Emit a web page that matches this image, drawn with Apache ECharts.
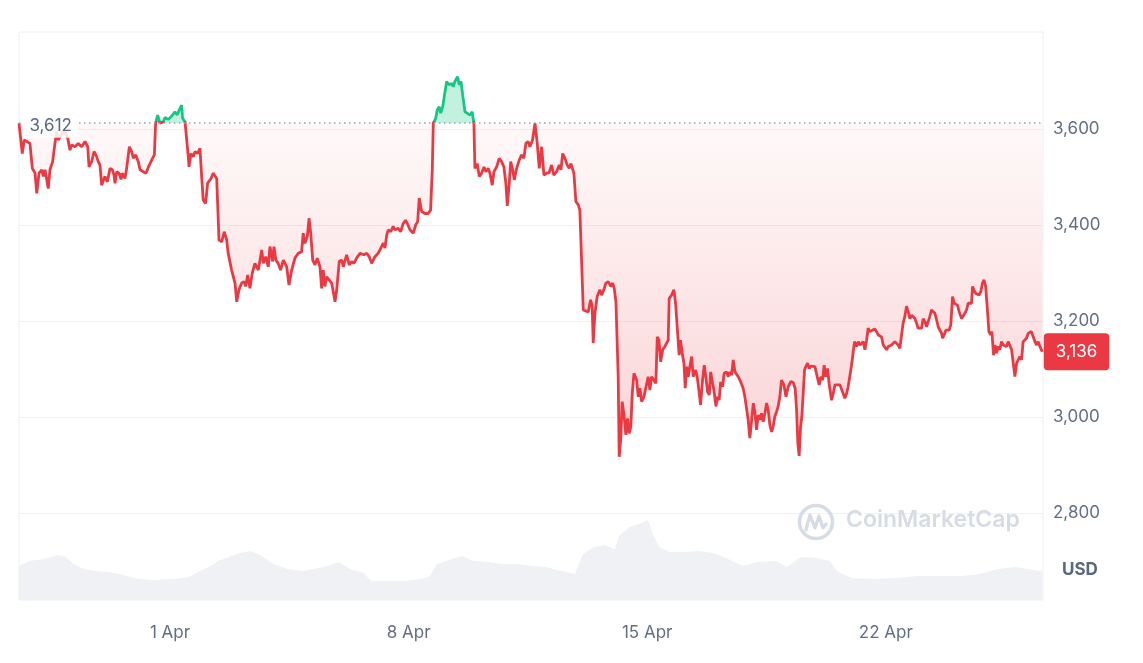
<!DOCTYPE html>
<html>
<head>
<meta charset="utf-8">
<script src="https://cdn.jsdelivr.net/npm/echarts@6/dist/echarts.min.js"></script>
<style>
html,body{margin:0;padding:0;background:#ffffff;}
#chart{width:1143px;height:663px;}
</style>
</head>
<body>
<div id="chart"></div>
<script>
// ---- Data (ETH / USD, 30 days) ----
const startTime = Date.UTC(2024, 2, 27, 13, 40); // first sample
const baselinePrice = 3612;

// hours since startTime
const priceHours = [
0,2.3,3.7,7.7,9.4,11.3,12.5,14.1,16.0,17.1,18.3,20.6,21.8,23.7,25.3,26.5,27.7,30.1,32.4,34.3,
35.9,37.1,39.4,41.7,44.1,46.5,48.4,49.3,51.2,52.8,54.2,55.8,57.0,58.2,59.3,60.5,62.2,64.1,65.7,66.9,
67.6,68.8,70.4,71.8,72.7,74.6,75.8,77.7,79.3,80.5,82.2,84.0,85.2,87.5,89.4,91.0,93.4,95.3,96.2,97.6,
99.3,101.6,102.8,105.1,107.5,109.8,111.4,112.9,114.5,115.2,116.9,118.1,119.2,119.7,121.1,122.7,123.9,125.8,127.4,128.6,
129.7,131.4,132.8,135.2,136.8,139.2,140.3,140.8,142.7,144.5,146.2,147.3,149.7,152.1,153.3,154.9,156.8,158.6,159.6,161.0,
162.6,164.2,166.1,168.5,170.9,172.0,173.7,175.5,
176.7,178.6,179.5,180.9,182.5,184.2,186.1,187.3,188.5,190.1,192.0,194.3,196.6,199.0,200.1,201.3,203.0,204.2,205.4,206.8,
208.4,210.0,211.9,213.1,214.2,215.4,216.6,218.5,220.1,221.3,222.5,223.7,225.5,227.2,228.3,230.7,232.5,234.2,235.8,237.7,
240.1,241.3,242.9,244.8,246.6,248.3,250.6,252.9,255.3,256.5,257.7,258.9,260.0,261.7,263.5,264.7,267.0,268.7,270.5,272.2,
273.4,275.3,277.6,279.3,280.7,281.8,283.5,285.8,288.1,289.8,291.0,291.7,293.4,294.5,295.9,296.9,298.3,299.4,301.1,302.7,
304.6,305.7,306.9,308.1,308.8,310.0,311.2,312.4,314.0,315.6,317.5,319.1,320.3,321.0,322.6,324.1,325.7,327.4,328.8,330.4,
331.6,333.2,334.4,336.3,338.1,339.8,341.4,342.8,343.8,345.2,346.2,347.6,348.7,350.4,352.2,353.9,355.5,356.9,358.5,
359.7,361.6,363.3,364.9,366.3,368.0,369.6,371.5,373.3,375.0,376.6,378.5,380.4,381.6,382.8,384.4,386.0,387.4,388.6,389.8,
390.7,392.1,393.8,394.9,396.1,397.3,398.5,400.8,402.5,403.6,404.3,405.5,407.1,409.0,410.2,411.8,413.2,414.9,416.6,418.0,
419.1,420.3,421.2,421.9,422.6,423.8,424.7,426.1,427.3,428.5,429.6,430.8,431.8,433.0,434.9,436.0,437.2,438.4,440.0,441.4,
443.0,444.2,445.4,447.0,448.4,449.4,450.6,451.8,453.2,454.8,456.0,457.1,457.8,459.5,461.1,462.3,463.4,464.8,465.8,467.0,
468.2,469.1,470.1,471.2,472.4,473.6,474.7,476.4,477.5,478.7,479.9,481.3,482.5,483.6,484.8,486.0,487.0,488.4,489.3,490.7,
491.9,493.0,494.0,495.4,496.5,498.2,499.4,500.5,501.7,502.9,504.1,505.3,506.4,507.6,508.8,509.9,511.1,512.3,513.4,514.6,
515.8,517.0,518.1,519.3,520.5,521.7,522.9,524.0,525.2,526.4,527.5,528.7,529.9,531.0,532.2,533.4,534.5,
535.7,536.9,538.6,540.0,541.6,543.5,545.1,546.5,547.5,548.4,549.3,550.3,551.2,552.1,553.1,554.0,555.2,556.4,557.6,558.8,
560.4,562.0,563.4,564.6,565.8,566.9,568.1,569.3,570.4,572.1,573.3,574.5,576.1,578.0,579.4,581.5,582.7,583.8,585.0,586.2,
587.3,588.3,589.7,590.9,592.1,593.3,594.4,595.6,596.8,597.9,599.1,601.0,602.6,603.8,605.0,606.1,607.3,608.5,609.7,610.9,
612.0,613.2,614.4,615.5,616.7,617.9,619.0,620.2,621.4,622.5,623.7,624.9,626.1,627.3,628.5,629.6,630.8,632.0,633.1,634.3,
635.5,636.6,637.8,639.0,640.1,641.3,642.5,643.7,644.9,646.1,647.2,648.4,649.6,650.3,651.4,652.6,653.8,654.9,656.1,657.3,
658.5,659.6,660.8,662.0,663.7,664.8,666.0,667.2,668.3,669.5,670.7,671.4,672.3,673.5,674.6,676.0,677.2,678.4,679.4,680.6,
681.7,682.9,684.1,685.0,686.2,687.1,688.3,689.4,690.6,691.8,693.0,694.1,695.3,696.5,697.7,698.9,700.0,701.2,702.4,703.5,
704.7,705.9,707.0,708.2,709.4,710.5,711.7,712.9,714.1,715.3,716.5,717.6,718.8,720.5
];

const priceValues = [
3612,3549,3577,3570,3518,3508,3466,3508,3515,3501,3515,3476,3515,3532,3570,3594,3577,3591,3594,3581,
3556,3567,3563,3570,3563,3574,3563,3521,3532,3553,3546,3532,3525,3483,3480,3501,3490,3518,3515,3504,
3487,3511,3508,3495,3508,3497,3518,3563,3553,3539,3546,3532,3515,3511,3508,3520,3535,3546,3612,3629,
3612,3615,3624,3620,3627,3636,3629,3640,3650,3622,3615,3612,3542,3521,3549,3542,3553,3549,3560,3501,
3452,3445,3487,3497,3508,3497,3410,3369,3365,3386,3369,3341,3306,3279,3240,3265,3279,3282,3272,3296,
3268,3299,3320,3306,3348,3320,3334,3313,
3355,3324,3355,3327,3320,3306,3327,3320,3313,3275,3306,3331,3341,3344,3383,3362,3376,3414,3383,3327,
3317,3331,3313,3268,3306,3272,3292,3285,3279,3261,3240,3265,3324,3327,3313,3338,3317,3324,3320,3331,
3341,3344,3338,3341,3334,3320,3334,3341,3355,3362,3352,3379,3390,3386,3397,3390,3393,3386,3403,3410,
3403,3390,3383,3400,3407,3456,3428,3424,3424,3431,3515,3612,3622,3640,3646,3633,3646,3667,3699,3692,
3695,3688,3699,3695,3709,3692,3699,3671,3636,3633,3629,3636,3612,3518,3528,3501,3508,3521,3511,3518,
3508,3483,3511,3521,3539,3532,3521,3487,3440,3487,3532,3515,3494,3518,3535,3546,3539,3570,3574,
3563,3577,3612,3570,3518,3563,3504,3508,3509,3525,3504,3511,3525,3515,3549,3539,3525,3518,3528,3532,
3508,3449,3442,3431,3327,3223,3219,3219,3244,3230,3154,3216,3251,3265,3254,3265,3279,3282,3272,3279,
3268,3240,3237,3084,2917,2959,3032,3001,2963,2997,2966,2980,3049,3091,3077,3042,3060,3032,3042,3039,
3084,3056,3084,3077,3070,3167,3160,3115,3140,3147,3144,3160,3247,3254,3265,3237,3233,3129,3160,3133,
3112,3060,3105,3084,3105,3126,3084,3098,3084,3056,3025,3077,3108,3084,3053,3046,3094,3070,3056,3022,
3042,3035,3073,3063,3091,3094,3084,3094,3087,3119,3094,3091,3084,3077,3077,3060,3042,3046,2994,2956,
2952,3029,3011,2973,3004,2994,3008,2990,3008,3029,3015,2983,2969,2980,3001,3011,3022,
3042,3077,3067,3042,3063,3074,3072,3060,3015,2945,2919,2980,3001,3001,3098,3105,3112,3101,3106,3105,
3105,3084,3067,3084,3077,3108,3084,3101,3070,3035,3049,3067,3067,3067,3056,3039,3049,3063,3067,3108,
3105,3157,3147,3157,3150,3150,3157,3140,3160,3185,3178,3181,3183,3178,3171,3174,3167,3150,3147,3140,
3147,3145,3150,3150,3157,3153,3150,3143,3147,3195,3209,3231,3219,3205,3212,3212,3205,3195,3185,3185,
3185,3205,3199,3188,3192,3209,3223,3219,3216,3202,3188,3181,3174,3164,3171,3181,3185,3181,3192,3251,
3237,3240,3233,3219,3205,3209,3216,3223,3237,3240,3237,3272,3265,3258,3254,3254,3261,3279,3286,3272,
3230,3178,3171,3178,3129,3150,3133,3147,3140,3157,3150,3153,3147,3157,3160,3140,3136,3084,3112,3112,
3126,3119,3157,3160,3164,3174,3171,3178,3167,3157,3150,3157,3147,3136
];

// 24h volume (billions USD), hours since startTime
const volumeHours = [
0,7.0,17.6,27.5,33.1,38.0,45.8,53.5,63.4,73.9,83.8,94.3,109.8,119.7,127.4,135.2,140.1,147.8,155.6,163.3,
171.1,178.8,189.4,199.2,207.0,217.5,225.3,233.0,242.9,247.8,258.4,271.0,283.7,289.3,294.3,304.8,311.9,319.6,330.2,340.7,
350.6,361.2,371.0,381.6,391.4,397.1,404.8,412.5,419.6,422.4,430.1,437.9,442.8,446.3,450.6,458.3,468.9,478.7,489.3,499.1,
509.7,519.6,532.9,540.7,550.5,561.1,570.9,576.6,586.4,601.9,617.4,632.9,648.4,663.2,676.5,689.2,701.9,714.6,720.5
];
const volumeValues = [
17,19.5,20.5,22.5,21.5,18,15.5,14.5,14,12.5,10.5,10,10.5,11.5,14.5,17,19.5,21.5,23.5,24.5,
22,18,15.5,14.5,15.5,17,19,15.5,13.5,9.5,9.5,9.5,10.5,12,18,20.5,22,19.5,19,18,
18,17,16.5,14.5,13,23,26.5,27.5,25.5,32,36.5,38.5,40,33,26.5,24,24,24.5,23.5,20.5,
17,19,19.5,16.5,21.5,21,19.5,14,11,10.5,11,12,12,12,13,15.5,16.5,15,14.5
];

const xTickDates = ['2024-04-01', '2024-04-08', '2024-04-15', '2024-04-22'];
const yTickValues = [2800, 3000, 3200, 3400, 3600];
const monthNames = ['Jan','Feb','Mar','Apr','May','Jun','Jul','Aug','Sep','Oct','Nov','Dec'];

// ---- Build ----
const HOUR = 3600 * 1000;
const priceData = priceHours.map((h, i) => [h, priceValues[i]]);
const volumeData = volumeHours.map((h, i) => [h, volumeValues[i]]);
const spanHours = 721;
const xTicks = xTickDates.map(d => (new Date(d + 'T00:00:00Z').getTime() - startTime) / HOUR);
const hourLabel = h => { const d = new Date(startTime + h * HOUR); return d.getUTCDate() + ' ' + monthNames[d.getUTCMonth()]; };
const fmt = v => Number(v).toLocaleString('en-US');
const pMax = Math.max(...priceValues), pMin = Math.min(...priceValues);
const split = (pMax - baselinePrice) / (pMax - pMin);
const last = priceData[priceData.length - 1];

const RED = '#ea3943', GREEN = '#16c784';
const LABEL = '#616e85';
const FONT = 'Inter, "Noto Sans", sans-serif';

const lineGradient = {type: 'linear', x: 0, y: 0, x2: 0, y2: 1, colorStops: [
  {offset: 0, color: GREEN}, {offset: split, color: GREEN},
  {offset: split, color: RED}, {offset: 1, color: RED}
]};
const areaGradient = {type: 'linear', x: 0, y: 0, x2: 0, y2: 1, colorStops: [
  {offset: 0, color: 'rgba(22,199,132,0.26)'},
  {offset: split, color: 'rgba(22,199,132,0.26)'},
  {offset: split, color: 'rgba(234,57,67,0.03)'},
  {offset: 1, color: 'rgba(234,57,67,0.22)'}
]};

const chart = echarts.init(document.getElementById('chart'), null, {renderer: 'canvas'});
chart.setOption({
  animation: false,
  backgroundColor: '#ffffff',
  grid: [
    {left: 19, right: 100, top: 33, bottom: 54},
    {left: 19, right: 100, top: 32, bottom: 63, show: true, borderColor: '#eceff3', borderWidth: 1, backgroundColor: 'transparent'}
  ],
  xAxis: [
    {gridIndex: 0, type: 'value', min: 0, max: spanHours, show: false},
    {gridIndex: 1, type: 'value', min: 0, max: spanHours,
     axisLine: {show: false}, axisTick: {show: false}, splitLine: {show: false},
     axisLabel: {customValues: xTicks, color: LABEL, fontSize: 17, fontFamily: FONT, margin: 24,
       formatter: v => hourLabel(v)}}
  ],
  yAxis: [
    {gridIndex: 0, type: 'value', position: 'right', min: 2600, max: 3800, interval: 200,
     axisLine: {show: false}, axisTick: {show: false},
     splitLine: {show: true, showMinLine: false, showMaxLine: false, lineStyle: {color: '#eff2f5', width: 1}},
     axisLabel: {color: LABEL, fontSize: 17, fontFamily: FONT, margin: 10, padding: [3, 0, 0, 0],
       formatter: v => yTickValues.includes(v) ? fmt(v) : ''}},
    {gridIndex: 1, type: 'value', min: 0, max: 284, show: false}
  ],
  graphic: [
    {type: 'circle', shape: {cx: 816, cy: 522, r: 16.5}, style: {fill: 'none', stroke: '#d6dce6', lineWidth: 3.5}, z: 2},
    {type: 'polyline', shape: {points: [[806, 530], [810, 515], [815, 528], [819, 516], [823, 528], [826, 524]]},
     style: {fill: 'none', stroke: '#d6dce6', lineWidth: 3.2, lineJoin: 'round', lineCap: 'round'}, z: 2},
    {type: 'text', left: 846, top: 509, style: {text: 'CoinMarketCap', font: '600 23px Inter, sans-serif', fill: '#d6dce6'}, z: 2},
    {type: 'text', left: 1062, top: 561, style: {text: 'USD', font: 'bold 17px Inter, sans-serif', fill: '#58667e'}, z: 5}
  ],
  series: [
    {
      name: 'Volume', type: 'line', xAxisIndex: 1, yAxisIndex: 1, data: volumeData,
      symbol: 'none', silent: true, lineStyle: {width: 0},
      areaStyle: {color: '#eff1f5', opacity: 1}, z: 1
    },
    {
      name: 'Price', type: 'line', xAxisIndex: 0, yAxisIndex: 0, data: priceData,
      symbol: 'none', showSymbol: false, z: 3,
      itemStyle: {color: RED},
      lineStyle: {width: 2.8, color: lineGradient},
      areaStyle: {origin: baselinePrice, opacity: 1, color: areaGradient},
      markLine: {
        silent: true, symbol: ['none', 'none'], label: {show: false},
        lineStyle: {color: '#9aa3b5', type: [1.5, 3.5], width: 1.5},
        data: [{yAxis: baselinePrice}]
      },
      markPoint: {
        silent: true,
        data: [
          {coord: [priceData[0][0], baselinePrice], symbol: 'rect', symbolSize: 1,
           itemStyle: {color: 'rgba(0,0,0,0)'},
           label: {show: true, position: 'right', distance: 4, offset: [0, 3], formatter: fmt(baselinePrice),
             color: '#58667e', fontSize: 17, fontFamily: FONT,
             backgroundColor: 'rgba(255,255,255,0.85)', padding: [3, 6]}},
          {coord: last, symbol: 'rect', symbolSize: 1, itemStyle: {color: 'rgba(0,0,0,0)'},
           label: {show: true, position: 'right', distance: 1, formatter: fmt(last[1]),
             color: '#ffffff', fontSize: 17, fontFamily: FONT,
             backgroundColor: RED, borderRadius: 4, padding: [10, 12]}}
        ]
      }
    }
  ]
});
</script>
</body>
</html>
